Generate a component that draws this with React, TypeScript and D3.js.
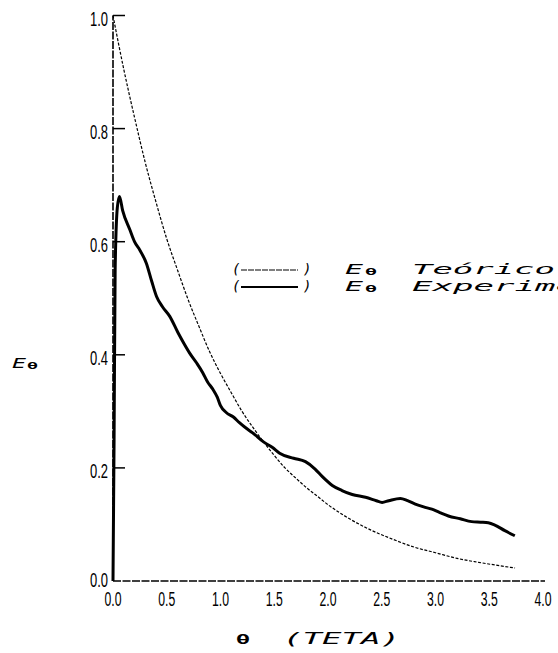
import * as d3 from 'd3';

// theoretical curve (thin, dotted)
const tetaTeo = [0, 0.1, 0.2, 0.3, 0.4, 0.5, 0.6, 0.7, 0.8, 0.9, 1.0, 1.1, 1.2, 1.3, 1.4, 1.5, 1.6, 1.7, 1.8, 1.9, 2.0, 2.2, 2.4, 2.6, 2.8, 3.0, 3.2, 3.4, 3.6, 3.74];
const eTeo = [1.0, 0.905, 0.82, 0.74, 0.67, 0.605, 0.55, 0.497, 0.45, 0.405, 0.367, 0.333, 0.30, 0.272, 0.246, 0.222, 0.20, 0.182, 0.165, 0.15, 0.135, 0.11, 0.09, 0.074, 0.06, 0.05, 0.04, 0.033, 0.027, 0.023];

// experimental curve (thick)
const tetaExp = [0, 0.01, 0.02, 0.04, 0.06, 0.09, 0.157, 0.2, 0.25, 0.31, 0.36, 0.405, 0.46, 0.528, 0.605, 0.66, 0.713, 0.78, 0.836, 0.88, 0.929, 0.97, 1.0, 1.053, 1.12, 1.176, 1.24, 1.299, 1.4, 1.484, 1.55, 1.68, 1.79, 1.88, 1.95, 2.04, 2.13, 2.225, 2.349, 2.45, 2.503, 2.565, 2.673, 2.74, 2.812, 2.89, 2.966, 3.04, 3.12, 3.23, 3.336, 3.42, 3.491, 3.552, 3.645, 3.738];
const eExp = [0, 0.25, 0.55, 0.66, 0.68, 0.655, 0.621, 0.60, 0.585, 0.562, 0.53, 0.503, 0.485, 0.468, 0.439, 0.42, 0.403, 0.385, 0.368, 0.352, 0.339, 0.325, 0.31, 0.298, 0.29, 0.28, 0.27, 0.262, 0.246, 0.236, 0.226, 0.217, 0.211, 0.198, 0.184, 0.169, 0.16, 0.153, 0.148, 0.142, 0.139, 0.142, 0.146, 0.142, 0.136, 0.131, 0.127, 0.121, 0.115, 0.11, 0.105, 0.104, 0.103, 0.099, 0.089, 0.08];

const xTicks = [0, 0.5, 1.0, 1.5, 2.0, 2.5, 3.0, 3.5, 4.0];
const yTicks = [0, 0.2, 0.4, 0.6, 0.8, 1.0];

const W = 558;
const H = 653;

const numFont = '"Liberation Sans Narrow", "Liberation Sans", sans-serif';
const plotFont = '"DejaVu Sans Mono", monospace';

export default function App() {
  const x = d3.scaleLinear().domain([0, 4]).range([113, 543]);
  const y = d3.scaleLinear().domain([0, 1]).range([581, 15.5]);

  const line = d3.line<[number, number]>()
    .x(d => x(d[0]))
    .y(d => y(d[1]))
    .curve(d3.curveMonotoneX);

  const teo = tetaTeo.map((t, i) => [t, eTeo[i]] as [number, number]);
  const exp = tetaExp.map((t, i) => [t, eExp[i]] as [number, number]);

  const leg1 = 269;
  const leg2 = 286;

  const legendRow = (cy: number, label: string, len: number, thick: boolean) => (
    <g>
      <text x={232} y={cy + 5} fontFamily={plotFont} fontStyle="oblique" fontSize={14}>(</text>
      <line x1={241} x2={298} y1={cy + 1} y2={cy + 1} stroke="#000"
        strokeWidth={thick ? 1.9 : 1.2} strokeDasharray={thick ? undefined : '6 1'} />
      <text x={303} y={cy + 5} fontFamily={plotFont} fontStyle="oblique" fontSize={14}>)</text>
      <text x={345} y={cy + 5} fontFamily={plotFont} fontStyle="oblique" fontSize={14}
        textLength={18} lengthAdjust="spacingAndGlyphs">E</text>
      <text x={365} y={cy + 6} fontFamily={plotFont} fontWeight="bold" fontSize={9}
        textLength={12} lengthAdjust="spacingAndGlyphs">θ</text>
      <text x={412} y={cy + 5} fontFamily={plotFont} fontStyle="oblique" fontSize={14}
        textLength={len} lengthAdjust="spacingAndGlyphs">{label}</text>
    </g>
  );

  return (
    <svg width={W} height={H} style={{ position: 'absolute', left: 0, top: 0, background: '#fff' }}>
      {/* axes */}
      <line x1={x(0)} x2={545} y1={y(0)} y2={y(0)} stroke="#000" strokeWidth={1.6} strokeDasharray="8 1.5" />
      <line x1={x(0)} x2={x(0)} y1={y(0)} y2={y(1)} stroke="#000" strokeWidth={1.6} strokeDasharray="8 1.5" />

      {/* y ticks + labels */}
      {yTicks.map(t => (
        <g key={'y' + t}>
          {t > 0 && <line x1={x(0)} x2={x(0) + 12} y1={y(t)} y2={y(t)} stroke="#000" strokeWidth={1.5} />}
          <text x={108} y={y(t) + (t === 0 ? 6 : 10)} textAnchor="end" fontFamily={numFont} fontSize={20}
            textLength={18} lengthAdjust="spacingAndGlyphs">{t.toFixed(1)}</text>
        </g>
      ))}

      {/* x tick labels */}
      {xTicks.map(t => (
        <text key={'x' + t} x={x(t)} y={606} textAnchor="middle" fontFamily={numFont} fontSize={20}
          textLength={17} lengthAdjust="spacingAndGlyphs">{t.toFixed(1)}</text>
      ))}

      {/* curves */}
      <path d={line(teo) || ''} fill="none" stroke="#000" strokeWidth={1.2} strokeDasharray="3 1.6" />
      <path d={line(exp) || ''} fill="none" stroke="#000" strokeWidth={3} strokeLinejoin="round" />

      {/* legend */}
      {legendRow(leg1, 'Teórico', 143, false)}
      {legendRow(leg2, 'Experimental', 246, true)}

      {/* y axis title */}
      <text x={12} y={368} fontFamily={plotFont} fontStyle="oblique" fontSize={14}
        textLength={14} lengthAdjust="spacingAndGlyphs">E</text>
      <text x={27} y={369} fontFamily={plotFont} fontWeight="bold" fontSize={8}
        textLength={11} lengthAdjust="spacingAndGlyphs">θ</text>

      {/* x axis title */}
      <text x={243} y={644} textAnchor="middle" fontFamily={plotFont} fontWeight="bold" fontSize={13}
        textLength={14} lengthAdjust="spacingAndGlyphs">θ</text>
      <text x={283} y={644} fontFamily={plotFont} fontStyle="oblique" fontSize={15}
        textLength={117} lengthAdjust="spacingAndGlyphs">(TETA)</text>
    </svg>
  );
}
